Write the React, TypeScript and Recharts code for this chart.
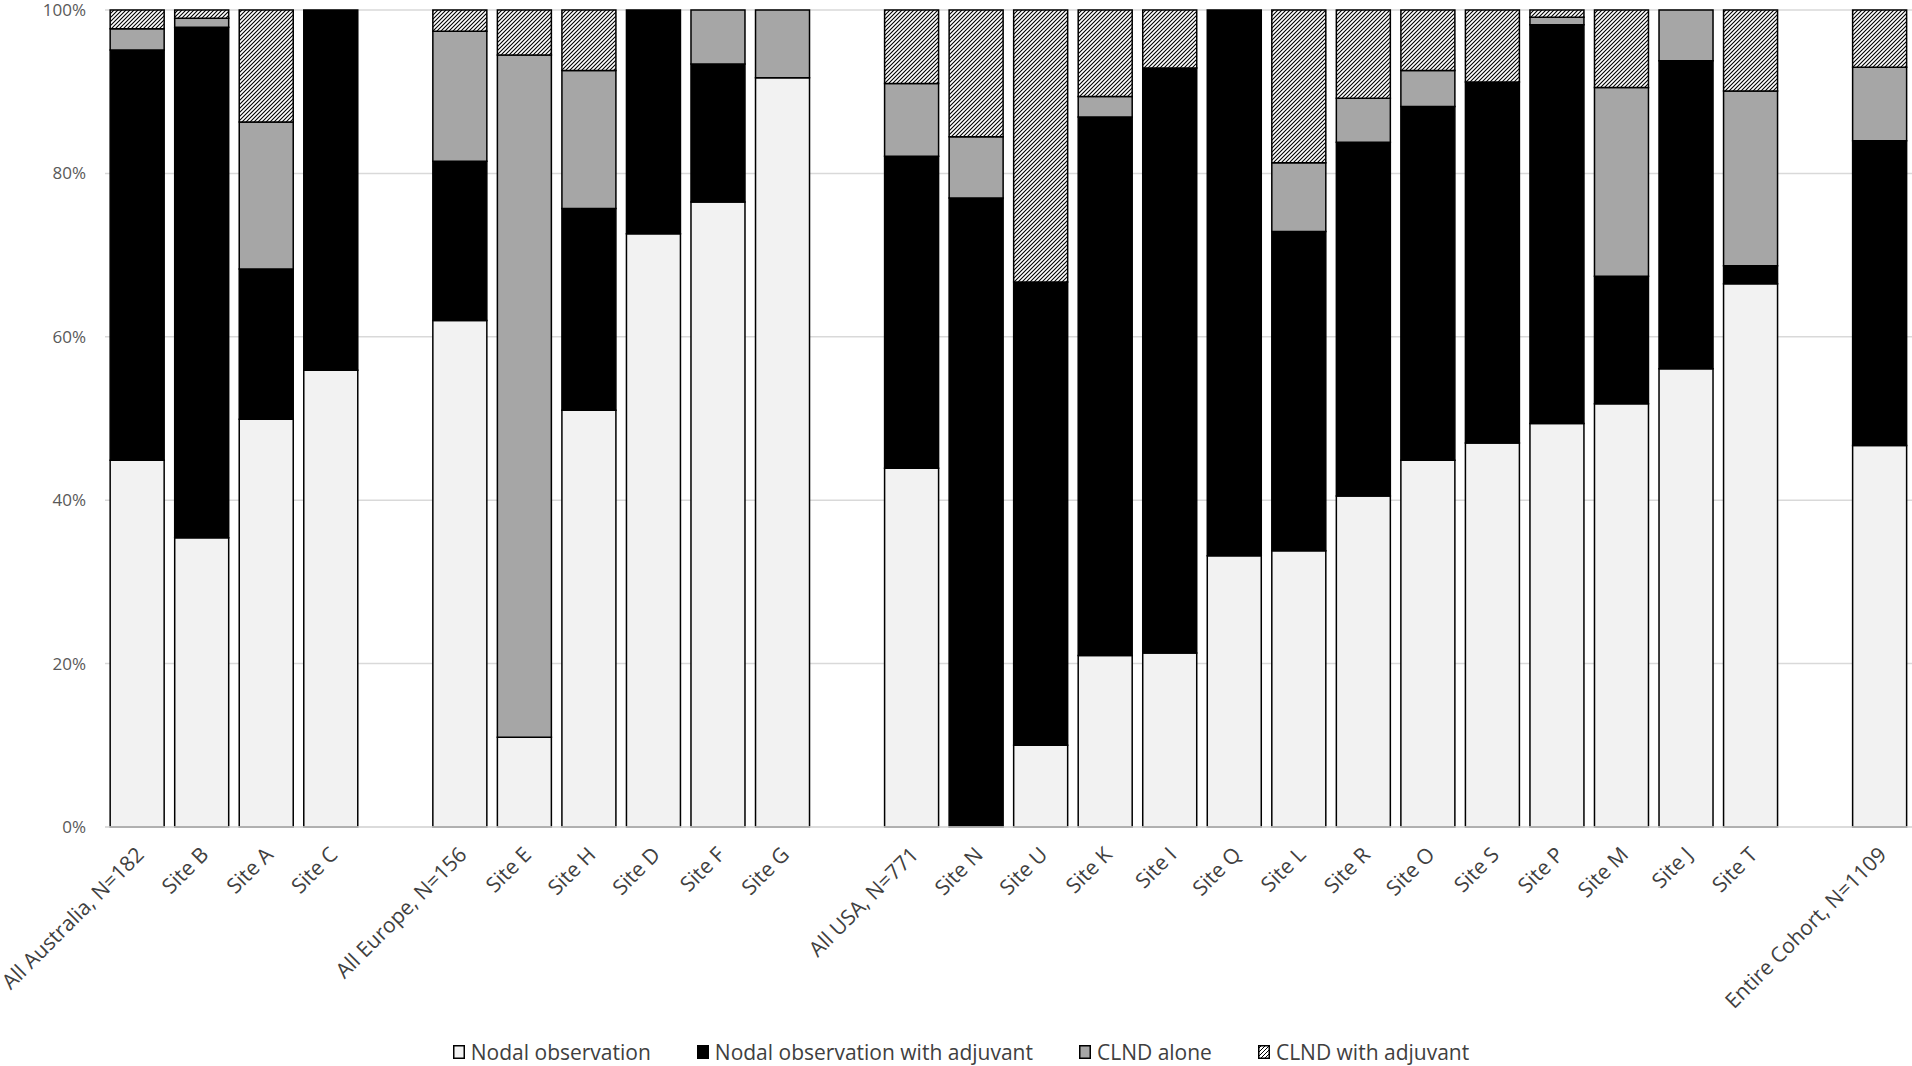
import React from "react";
import { BarChart, Bar, XAxis, YAxis, CartesianGrid, Legend } from "recharts";

const categories = [
  "All Australia, N=182", "Site B", "Site A", "Site C", "",
  "All Europe, N=156", "Site E", "Site H", "Site D", "Site F", "Site G", "",
  "All USA, N=771", "Site N", "Site U", "Site K", "Site I", "Site Q", "Site L", "Site R",
  "Site O", "Site S", "Site P", "Site M", "Site J", "Site T", "",
  "Entire Cohort, N=1109",
];

const nodalObservation = [44.9, 35.4, 49.9, 55.9, null, 62.0, 11.0, 51.0, 72.6, 76.5, 91.7, null, 43.9, 0, 10.0, 21.0, 21.3, 33.2, 33.8, 40.5, 44.9, 47.0, 49.4, 51.8, 56.1, 66.5, null, 46.7];
const nodalAdjuvant = [50.2, 62.5, 18.4, 44.1, null, 19.5, 0, 24.7, 27.4, 16.9, 0, null, 38.2, 77.0, 56.7, 65.9, 71.6, 66.8, 39.1, 43.3, 43.3, 44.2, 48.8, 15.6, 37.7, 2.2, null, 37.3];
const clndAlone = [2.6, 1.1, 18.0, 0, null, 15.9, 83.5, 16.9, 0, 6.6, 8.3, null, 8.9, 7.5, 0, 2.5, 0, 0, 8.4, 5.4, 4.4, 0, 0.9, 23.1, 6.2, 21.4, null, 9.0];
const clndAdjuvant = [2.3, 1.0, 13.7, 0, null, 2.6, 5.5, 7.4, 0, 0, 0, null, 9.0, 15.5, 33.3, 10.6, 7.1, 0, 18.7, 10.8, 7.4, 8.8, 0.9, 9.5, 0, 9.9, null, 7.0];

const yTicks = [0, 0.2, 0.4, 0.6, 0.8, 1];

const seriesNames = ["Nodal observation", "Nodal observation with adjuvant", "CLND alone", "CLND with adjuvant"];

const data = categories.map((name, i) => ({
  name,
  nodalObservation: nodalObservation[i],
  nodalAdjuvant: nodalAdjuvant[i],
  clndAlone: clndAlone[i],
  clndAdjuvant: clndAdjuvant[i],
}));

const FONT = "'Open Sans', 'Noto Sans', sans-serif";

const XTick = (props: any) => {
  const { x, y, payload } = props;
  const ax = x + 8;
  const ay = y + 29;
  return (
    <text
      x={ax}
      y={ay}
      transform={`rotate(-45, ${ax}, ${ay})`}
      textAnchor="end"
      fontFamily={FONT}
      fontSize={21}
      fill="#404040"
    >
      {payload.value}
    </text>
  );
};

const legendFills = ["#F2F2F2", "#000000", "#A6A6A6", "url(#hatchLegend)"];

const renderLegend = () => (
  <div
    style={{
      display: "flex",
      justifyContent: "center",
      alignItems: "center",
      height: 28,
      fontFamily: FONT,
      fontSize: 21,
      color: "#404040",
      paddingLeft: 10,
    }}
  >
    <svg width={0} height={0} style={{ position: "absolute" }}>
      <defs>
        <pattern id="hatchLegend" patternUnits="userSpaceOnUse" width="4" height="4">
          <rect width="4" height="4" fill="#fff" />
          <path d="M-1,1 l2,-2 M0,4 l4,-4 M3,5 l2,-2" stroke="#000" strokeWidth="1" />
        </pattern>
      </defs>
    </svg>
    {seriesNames.map((n, i) => (
      <div key={n} style={{ display: "flex", alignItems: "center", marginRight: i < 3 ? 46 : 0 }}>
        <svg width={12} height={14} style={{ marginRight: 6 }}>
          <rect x={0.75} y={0.75} width={10.5} height={12.5} fill={legendFills[i]} stroke="#000" strokeWidth={1.5} />
        </svg>
        <span>{n}</span>
      </div>
    ))}
  </div>
);

export default function App() {
  return (
    <div style={{ position: "absolute", left: 0, top: 0, width: 1912, height: 1066, background: "#fff" }}>
      <BarChart
        width={1912}
        height={1066}
        data={data}
        stackOffset="expand"
        barCategoryGap="8%"
        margin={{ top: 10, right: 0, left: 0, bottom: 0 }}
      >
        <defs>
          <pattern id="hatch" patternUnits="userSpaceOnUse" width="4" height="4">
            <rect width="4" height="4" fill="#fff" />
            <path d="M-1,1 l2,-2 M0,4 l4,-4 M3,5 l2,-2" stroke="#000" strokeWidth="1.1" />
          </pattern>
        </defs>
        <CartesianGrid vertical={false} stroke="#D9D9D9" strokeWidth={1.5} />
        <XAxis
          dataKey="name"
          interval={0}
          height={211}
          tickLine={false}
          tickSize={0}
          tickMargin={0}
          axisLine={{ stroke: "#D9D9D9", strokeWidth: 1.5 }}
          tick={<XTick />}
        />
        <YAxis
          width={105}
          domain={[0, 1]}
          ticks={yTicks}
          axisLine={false}
          tickLine={false}
          tickSize={6}
          tickMargin={13}
          tickFormatter={(v: number) => `${Math.round(v * 100)}%`}
          tick={{ fill: "#595959", fontSize: 17, fontFamily: FONT }}
        />
        <Legend verticalAlign="bottom" content={renderLegend} height={28} />
        <Bar dataKey="nodalObservation" name={seriesNames[0]} stackId="a" fill="#F2F2F2" stroke="#000" strokeWidth={1.5} isAnimationActive={false} />
        <Bar dataKey="nodalAdjuvant" name={seriesNames[1]} stackId="a" fill="#000000" stroke="#000" strokeWidth={1.5} isAnimationActive={false} />
        <Bar dataKey="clndAlone" name={seriesNames[2]} stackId="a" fill="#A6A6A6" stroke="#000" strokeWidth={1.5} isAnimationActive={false} />
        <Bar dataKey="clndAdjuvant" name={seriesNames[3]} stackId="a" fill="url(#hatch)" stroke="#000" strokeWidth={1.5} isAnimationActive={false} />
      </BarChart>
    </div>
  );
}
